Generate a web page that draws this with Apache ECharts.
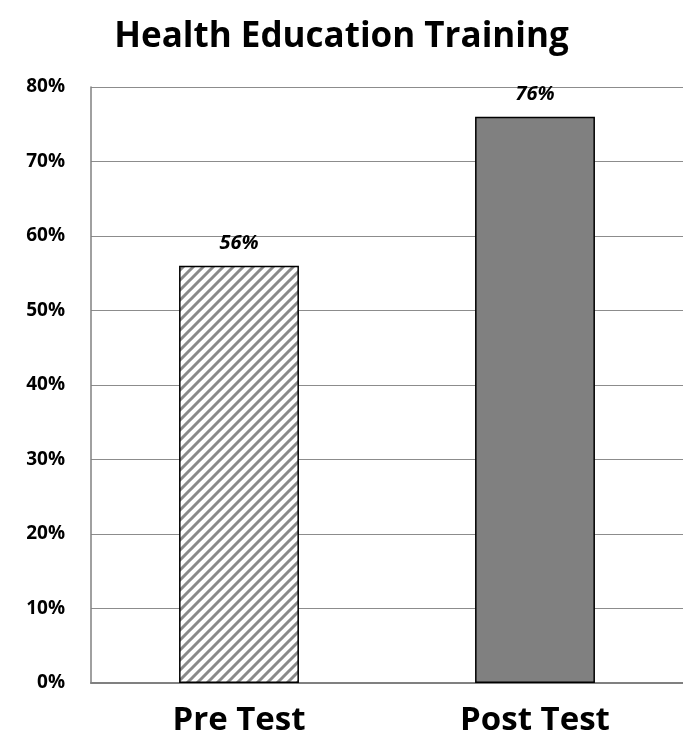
<!DOCTYPE html>
<html>
<head>
<meta charset="utf-8">
<script src="https://cdn.jsdelivr.net/npm/echarts@6/dist/echarts.min.js"></script>
<style>
html, body { margin: 0; padding: 0; background: #fff; }
#chart { width: 683px; height: 753px; }
</style>
</head>
<body>
<div id="chart"></div>
<script>
// Chart data
const categories = ['Pre Test', 'Post Test'];
const scores = [56, 76];
const yTicks = [0, 10, 20, 30, 40, 50, 60, 70, 80];

// Diagonal hatch tile for the first bar (seamless: lines x + y = 0, s, 2s)
function hatchTile() {
  const s = 10;
  const c = document.createElement('canvas');
  c.width = s; c.height = s;
  const g = c.getContext('2d');
  g.fillStyle = '#ffffff';
  g.fillRect(0, 0, s, s);
  g.strokeStyle = '#8a8a8a';
  g.lineWidth = 3;
  g.beginPath();
  for (let k = 0; k <= 2 * s; k += s) {
    g.moveTo(-s, k + s);
    g.lineTo(2 * s, k - 2 * s);
  }
  g.stroke();
  return c;
}

const barColors = [
  { image: hatchTile(), repeat: 'repeat' },
  '#808080'
];

const chart = echarts.init(document.getElementById('chart'), null, { renderer: 'canvas' });
const font = '"Open Sans", "Liberation Sans", sans-serif';

chart.setOption({
  animation: false,
  title: {
    text: 'Health Education Training',
    left: 'center',
    top: 15,
    textStyle: { fontFamily: font, fontWeight: 'bold', fontSize: 35, color: '#000' }
  },
  grid: { left: 91, right: 0, top: 87, bottom: 70 },
  xAxis: {
    type: 'category',
    data: categories,
    axisLine: { show: true, lineStyle: { color: '#808080', width: 2 } },
    axisTick: { show: false },
    axisLabel: {
      fontFamily: font, fontWeight: 'bold', fontSize: 33, color: '#000', margin: 21
    }
  },
  yAxis: {
    type: 'value',
    min: yTicks[0],
    max: yTicks[yTicks.length - 1],
    interval: 10,
    axisLine: { show: true, lineStyle: { color: '#808080', width: 1.5 } },
    axisTick: { show: false },
    splitLine: { show: true, lineStyle: { color: '#8c8c8c', width: 1 } },
    axisLabel: {
      fontFamily: font, fontWeight: 'bold', fontSize: 19, color: '#000', margin: 26,
      formatter: v => v + '%'
    }
  },
  series: [{
    type: 'bar',
    barWidth: '40.5%',
    data: scores.map((v, i) => ({
      value: v,
      itemStyle: { color: barColors[i], borderColor: '#000', borderWidth: 1.5 }
    })),
    label: {
      show: true,
      position: 'top',
      distance: 13,
      fontFamily: font,
      fontWeight: 'bold',
      fontStyle: 'italic',
      fontSize: 20,
      color: '#000',
      formatter: p => p.value + '%'
    }
  }]
});
</script>
</body>
</html>
